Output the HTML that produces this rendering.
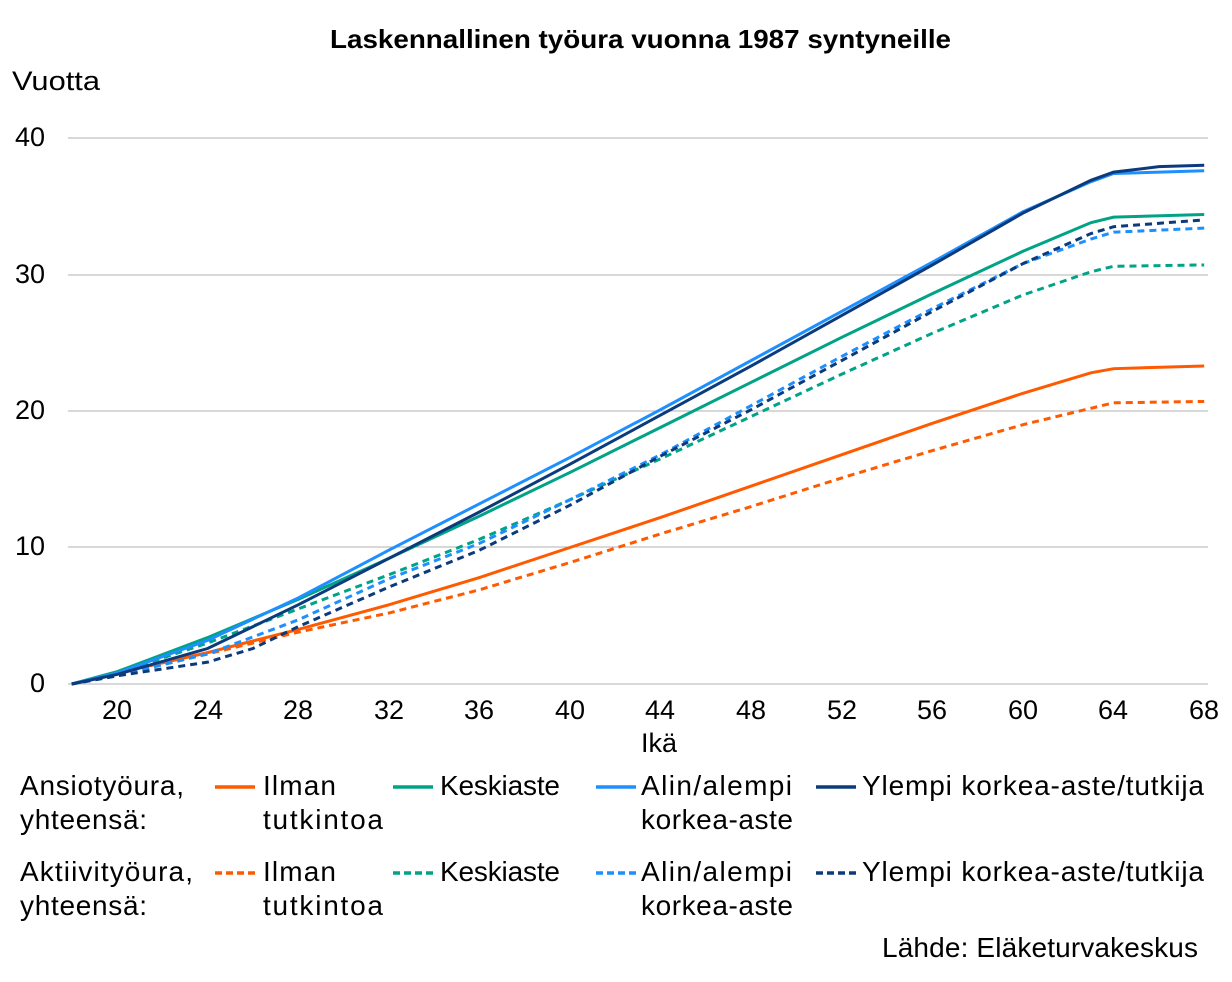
<!DOCTYPE html>
<html><head><meta charset="utf-8"><style>
body{margin:0;background:#fff;}
svg{display:block;font-family:"Liberation Sans",sans-serif;}
</style></head><body>
<svg width="1232" height="982" viewBox="0 0 1232 982" xmlns="http://www.w3.org/2000/svg">
<text x="330" y="48" font-size="26" font-weight="bold" textLength="621" lengthAdjust="spacingAndGlyphs">Laskennallinen työura vuonna 1987 syntyneille</text>
<text x="12" y="90" font-size="27" textLength="88" lengthAdjust="spacingAndGlyphs">Vuotta</text>
<g stroke="#b0b0b0" stroke-width="1">
<line x1="68" y1="138" x2="1208" y2="138"/><line x1="68" y1="275" x2="1208" y2="275"/>
<line x1="68" y1="411" x2="1208" y2="411"/><line x1="68" y1="547" x2="1208" y2="547"/>
<line x1="68" y1="684" x2="1208" y2="684"/></g>
<g font-size="27" text-anchor="end"><text x="45" y="146">40</text><text x="45" y="283">30</text><text x="45" y="419">20</text><text x="45" y="555">10</text><text x="45" y="692">0</text></g>
<g font-size="27" text-anchor="middle">
<text x="117" y="719">20</text><text x="208" y="719">24</text><text x="298" y="719">28</text><text x="389" y="719">32</text><text x="479" y="719">36</text><text x="570" y="719">40</text><text x="660" y="719">44</text><text x="751" y="719">48</text><text x="842" y="719">52</text><text x="932" y="719">56</text><text x="1023" y="719">60</text><text x="1113" y="719">64</text><text x="1204" y="719">68</text>
<text x="659" y="752">Ikä</text></g>
<g transform="matrix(22.65 0 0 -13.65 -336 684)" fill="none" stroke-width="3">
<polyline vector-effect="non-scaling-stroke" stroke="#FF5A00" points="18,0 20,0.8 24,2.3 28,4 32,5.8 36,7.8 40,10 44,12.2 48,14.5 52,16.8 56,19.1 60,21.3 63,22.8 64,23.1 68,23.3"/>
<polyline vector-effect="non-scaling-stroke" stroke="#FF5A00" stroke-dasharray="7,5" points="18,0 20,0.7 24,2.2 28,3.8 32,5.2 36,6.9 40,8.9 44,11 48,13 52,15.1 56,17.1 60,19 64,20.6 68,20.7"/>
<polyline vector-effect="non-scaling-stroke" stroke="#00A386" points="18,0 20,0.9 24,3.4 28,6.2 32,9.2 36,12.3 40,15.5 44,18.8 48,22.1 52,25.4 56,28.6 60,31.7 63,33.8 64,34.2 68,34.4"/>
<polyline vector-effect="non-scaling-stroke" stroke="#00A386" stroke-dasharray="7,5" points="18,0 20,0.8 24,3 28,5.5 32,8 36,10.6 40,13.5 44,16.5 48,19.6 52,22.7 56,25.7 60,28.5 63,30.2 64,30.6 68,30.7"/>
<polyline vector-effect="non-scaling-stroke" stroke="#1E8FFF" points="18,0 20,0.8 24,3.2 28,6.3 32,9.8 36,13.2 40,16.6 44,20.1 48,23.7 52,27.3 56,30.9 60,34.6 63,36.8 64,37.4 68,37.6"/>
<polyline vector-effect="non-scaling-stroke" stroke="#1E8FFF" stroke-dasharray="7,5" points="18,0 20,0.6 24,2.2 28,4.7 32,7.7 36,10.3 40,13.5 44,16.8 48,20.4 52,24 56,27.5 60,30.8 63,32.6 64,33.1 68,33.4"/>
<polyline vector-effect="non-scaling-stroke" stroke="#0B3B7C" points="18,0 20,0.7 24,2.6 28,5.8 32,9.2 36,12.6 40,16.1 44,19.7 48,23.3 52,27 56,30.7 60,34.5 63,36.9 64,37.5 66,37.9 68,38"/>
<polyline vector-effect="non-scaling-stroke" stroke="#0B3B7C" stroke-dasharray="7,5" points="18,0 20,0.6 24,1.6 26,2.6 28,4.2 32,7.1 36,9.8 40,13.1 44,16.7 48,20.1 52,23.7 56,27.3 60,30.8 63,33 64,33.5 68,34"/>
</g>
<g font-size="28" lengthAdjust="spacingAndGlyphs">
<text x="20" y="795" textLength="164">Ansiotyöura,</text><text x="20" y="829" textLength="127">yhteensä:</text>
<text x="20" y="881" textLength="173">Aktiivityöura,</text><text x="20" y="915" textLength="127">yhteensä:</text>
<text x="263" y="795" textLength="73">Ilman</text><text x="263" y="829" textLength="120">tutkintoa</text>
<text x="440" y="795" textLength="120">Keskiaste</text>
<text x="641" y="795" textLength="151">Alin/alempi</text><text x="641" y="829" textLength="152">korkea-aste</text>
<text x="862" y="795" textLength="342">Ylempi korkea-aste/tutkija</text>
<text x="263" y="881" textLength="73">Ilman</text><text x="263" y="915" textLength="120">tutkintoa</text>
<text x="440" y="881" textLength="120">Keskiaste</text>
<text x="641" y="881" textLength="151">Alin/alempi</text><text x="641" y="915" textLength="152">korkea-aste</text>
<text x="862" y="881" textLength="342">Ylempi korkea-aste/tutkija</text>
<text x="882" y="957" textLength="316">Lähde: Eläketurvakeskus</text>
</g>
<g stroke-width="3.5">
<line x1="215" y1="787" x2="255" y2="787" stroke="#FF5A00"/>
<line x1="393" y1="787" x2="433" y2="787" stroke="#00A386"/>
<line x1="596" y1="787" x2="636" y2="787" stroke="#1E8FFF"/>
<line x1="816" y1="787" x2="856" y2="787" stroke="#0B3B7C"/>
<g stroke-dasharray="7,4">
<line x1="215" y1="873" x2="255" y2="873" stroke="#FF5A00"/>
<line x1="393" y1="873" x2="433" y2="873" stroke="#00A386"/>
<line x1="596" y1="873" x2="636" y2="873" stroke="#1E8FFF"/>
<line x1="816" y1="873" x2="856" y2="873" stroke="#0B3B7C"/>
</g></g>
</svg>
</body></html>
